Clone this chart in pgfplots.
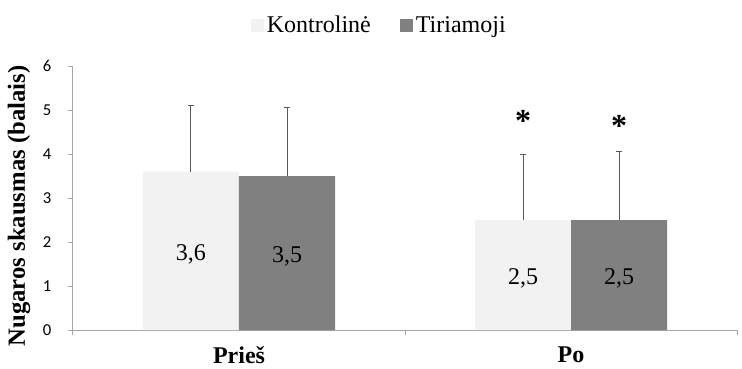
\documentclass[border=0pt]{standalone}
\usepackage{fontspec}
\setmainfont{Liberation Serif}
\newfontfamily\calibri{Carlito}
\usepackage{pgfplots}
\pgfplotsset{compat=1.18}
\definecolor{kontr}{HTML}{F2F2F2}
\definecolor{tiri}{HTML}{808080}
\definecolor{axgray}{HTML}{A6A6A6}
\definecolor{errgray}{HTML}{595959}
\begin{document}
\begin{tikzpicture}
\begin{axis}[
  at={(0,0)}, anchor=south west,
  width=498pt, height=198pt, scale only axis,
  xmin=-0.5, xmax=1.5, ymin=0, ymax=6,
  axis lines*=left,
  axis line style={draw=axgray, line width=0.75pt},
  ytick={0,1,2,3,4,5,6},
  xtick={-0.5,0.5,1.5}, xticklabels={},
  extra x ticks={0,1}, extra x tick labels={Prieš,Po},
  extra x tick style={major tick length=0pt, tick label style={font=\bfseries\fontsize{18}{20}\selectfont, yshift=-9pt}},
  tick align=outside, major tick length=3.75pt,
  tick style={draw=axgray, line width=0.75pt},
  yticklabel style={font=\calibri\fontsize{12.5}{14}\selectfont, anchor=east, xshift=-9pt, /pgf/number format/assume math mode=true},
  ylabel={Nugaros skausmas (balais)},
  ylabel style={at={(axis description cs:-0.0813,0.47)}, anchor=center, font=\bfseries\fontsize{18.5}{20}\selectfont},
  ybar=0pt, bar width=72pt,
  visualization depends on={rawy \as \rawy},
  nodes near coords={\pgfmathprintnumber[fixed,fixed zerofill,precision=1,use comma,assume math mode=true]{\pgfplotspointmeta}},
  nodes near coords style={font=\fontsize{18}{20}\selectfont, text=black, anchor=center, yshift={-16.5*\rawy-2.5}},
  legend style={at={(axis description cs:0.462,1.155)}, anchor=center, draw=none, fill=none,
    legend columns=2, font=\fontsize{18}{20}\selectfont,
    /tikz/every even column/.append style={column sep=20pt}},
]
\addplot[fill=kontr, draw=none,
  legend image code/.code={\fill[kontr] (0pt,-4.9pt) rectangle (9.75pt,4.9pt);},
  error bars/.cd, y dir=plus, y explicit,
  error bar style={errgray, line width=0.75pt},
  error mark options={rotate=90, errgray, mark size=2.25pt, line width=0.75pt}]
  coordinates {(0,3.6) +- (0,1.5) (1,2.5) +- (0,1.5)};
\addlegendentry{Kontrolinė}
\addplot[fill=tiri, draw=none,
  legend image code/.code={\fill[tiri] (0pt,-4.9pt) rectangle (9.75pt,4.9pt);},
  error bars/.cd, y dir=plus, y explicit,
  error bar style={errgray, line width=0.75pt},
  error mark options={rotate=90, errgray, mark size=2.25pt, line width=0.75pt}]
  coordinates {(0,3.5) +- (0,1.55) (1,2.5) +- (0,1.55)};
\addlegendentry{Tiriamoji}
\node[font=\bfseries\fontsize{24}{24}\selectfont, anchor=base] at (axis cs:1,4.52) [xshift=-36pt] {*};
\node[font=\bfseries\fontsize{24}{24}\selectfont, anchor=base] at (axis cs:1,4.40) [xshift=36pt] {*};
\end{axis}
\pgfresetboundingbox
\path[use as bounding box] (-54.75pt,-28.5pt) rectangle (501.75pt,247.5pt);
\end{tikzpicture}
\end{document}
